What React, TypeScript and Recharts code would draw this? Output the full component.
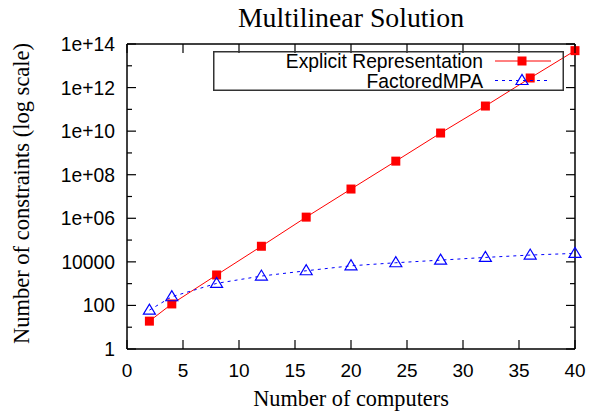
import React from "react";
import { LineChart, Line, XAxis, YAxis, Legend } from "recharts";

// values
const computers = [2, 4, 8, 12, 16, 20, 24, 28, 32, 36, 40];
const explicitRep = [19, 117, 2500, 5.2e4, 1.13e6, 2.2e7, 4.2e8, 8.2e9, 1.42e11, 2.75e12, 4.95e13];
const factoredMPA = [61, 250, 1030, 2230, 3900, 6600, 9100, 12000, 16000, 20500, 24500];

const xTicks = [0, 5, 10, 15, 20, 25, 30, 35, 40];
const yTicks = [1, 10, 100, 1e3, 1e4, 1e5, 1e6, 1e7, 1e8, 1e9, 1e10, 1e11, 1e12, 1e13, 1e14];
const yLabels: Record<number, string> = {
  1: "1",
  100: "100",
  10000: "10000",
  1000000: "1e+06",
  100000000: "1e+08",
  10000000000: "1e+10",
  1000000000000: "1e+12",
  100000000000000: "1e+14",
};

const data = computers.map((c, i) => ({
  computers: c,
  explicit: explicitRep[i],
  factored: factoredMPA[i],
}));

const SANS = "'Liberation Sans', Arial, sans-serif";
const SERIF = "'Liberation Serif', 'Times New Roman', serif";
const RED = "#ff0000";
const BLUE = "#0000ff";

const isMajor = (v: number) => yLabels[v] !== undefined;

const BottomTick = (p: any) => (
  <g>
    <line x1={p.x} y1={p.y} x2={p.x} y2={p.y - 9} stroke="#000" strokeWidth={1.2} />
    <text x={p.x} y={p.y + 28} textAnchor="middle" fontFamily={SANS} fontSize={19} fill="#000">
      {p.payload.value}
    </text>
  </g>
);

const TopTick = (p: any) => (
  <line x1={p.x} y1={p.y} x2={p.x} y2={p.y + 9} stroke="#000" strokeWidth={1.2} />
);

const LeftTick = (p: any) => {
  const v = p.payload.value;
  const len = isMajor(v) ? 9 : 5;
  return (
    <g>
      <line x1={p.x} y1={p.y} x2={p.x + len} y2={p.y} stroke="#000" strokeWidth={1.2} />
      {isMajor(v) && (
        <text x={p.x - 12} y={p.y + 7} textAnchor="end" fontFamily={SANS} fontSize={19.3} fill="#000">
          {yLabels[v]}
        </text>
      )}
    </g>
  );
};

const RightTick = (p: any) => {
  const len = isMajor(p.payload.value) ? 9 : 5;
  return <line x1={p.x} y1={p.y} x2={p.x - len} y2={p.y} stroke="#000" strokeWidth={1.2} />;
};

const SquareDot = (p: any) => {
  if (p.cx == null || p.cy == null) return <g key={p.index} />;
  return <rect key={p.index} x={p.cx - 4.5} y={p.cy - 4.5} width={9} height={9} fill={RED} />;
};

const TriangleDot = (p: any) => {
  if (p.cx == null || p.cy == null) return <g key={p.index} />;
  const { cx, cy } = p;
  return (
    <path
      key={p.index}
      d={`M${cx - 6},${cy + 4} L${cx + 6},${cy + 4} L${cx},${cy - 6} Z`}
      fill="none"
      stroke={BLUE}
      strokeWidth={1.2}
    />
  );
};

const LegendBox = () => (
  <svg width={351} height={40} style={{ display: "block" }}>
    <rect x={0.75} y={0.75} width={349.5} height={38.5} fill="none" stroke="#333" strokeWidth={1.5} />
    <text x={270} y={16.5} textAnchor="end" fontFamily={SANS} fontSize={19.3} fill="#000">
      Explicit Representation
    </text>
    <line x1={282} y1={10} x2={338} y2={10} stroke={RED} strokeWidth={1} />
    <rect x={304.5} y={5.5} width={9} height={9} fill={RED} />
    <text x={270} y={37} textAnchor="end" fontFamily={SANS} fontSize={19.3} fill="#000">
      FactoredMPA
    </text>
    <line x1={282} y1={29.5} x2={338} y2={29.5} stroke={BLUE} strokeWidth={1} strokeDasharray="3 4" />
    <path d="M303,33.5 L315,33.5 L309,23.5 Z" fill="none" stroke={BLUE} strokeWidth={1.2} />
  </svg>
);

export default function App() {
  return (
    <div style={{ position: "absolute", left: 0, top: 0, width: 603, height: 417, background: "#fff" }}>
      <LineChart width={603} height={417} data={data} margin={{ top: 43, right: 27, bottom: 0, left: 0 }}>
        <XAxis
          dataKey="computers"
          type="number"
          domain={[0, 40]}
          ticks={xTicks}
          interval={0}
          height={68}
          tickSize={0}
          tickMargin={0}
          tickLine={false}
          axisLine={{ stroke: "#000", strokeWidth: 1.5 }}
          tick={<BottomTick />}
          label={{
            content: (props: any) => {
              const vb = props.viewBox;
              return (
                <text
                  x={vb.x + vb.width / 2}
                  y={vb.y + 57}
                  textAnchor="middle"
                  fontFamily={SERIF}
                  fontSize={22.3}
                  fill="#000"
                >
                  Number of computers
                </text>
              );
            },
          }}
        />
        <XAxis
          xAxisId="top"
          dataKey="computers"
          orientation="top"
          type="number"
          domain={[0, 40]}
          ticks={xTicks}
          interval={0}
          height={1}
          tickSize={0}
          tickMargin={0}
          tickLine={false}
          axisLine={{ stroke: "#000", strokeWidth: 1.5 }}
          tick={<TopTick />}
          label={{
            content: (props: any) => {
              const vb = props.viewBox;
              return (
                <text
                  x={vb.x + vb.width / 2}
                  y={vb.y + vb.height - 17}
                  textAnchor="middle"
                  fontFamily={SERIF}
                  fontSize={27.8}
                  fill="#000"
                >
                  Multilinear Solution
                </text>
              );
            },
          }}
        />
        <YAxis
          type="number"
          scale="log"
          domain={[1, 1e14]}
          ticks={yTicks}
          interval={0}
          allowDataOverflow
          width={127}
          tickSize={0}
          tickMargin={0}
          tickLine={false}
          axisLine={{ stroke: "#000", strokeWidth: 1.5 }}
          tick={<LeftTick />}
          label={{
            content: (props: any) => {
              const vb = props.viewBox;
              const cy = vb.y + vb.height / 2 - 3;
              return (
                <text
                  x={29}
                  y={cy}
                  transform={`rotate(-90, 29, ${cy})`}
                  textAnchor="middle"
                  fontFamily={SERIF}
                  fontSize={22.5}
                  fill="#000"
                >
                  Number of constraints (log scale)
                </text>
              );
            },
          }}
        />
        <YAxis
          yAxisId="right"
          orientation="right"
          type="number"
          scale="log"
          domain={[1, 1e14]}
          ticks={yTicks}
          interval={0}
          allowDataOverflow
          width={1}
          tickSize={0}
          tickMargin={0}
          tickLine={false}
          axisLine={{ stroke: "#000", strokeWidth: 1.5 }}
          tick={<RightTick />}
        />
        <Legend
          layout="horizontal"
          verticalAlign="middle"
          align="center"
          content={() => <LegendBox />}
          wrapperStyle={{ position: "absolute", left: 213, top: 51, width: 351, height: 40, pointerEvents: "none" }}
        />
        <Line
          dataKey="explicit"
          stroke={RED}
          strokeWidth={1}
          dot={<SquareDot />}
          activeDot={false}
          isAnimationActive={false}
        />
        {/* second series sits on the mirrored top/right axes (same domains) so those get drawn */}
        <Line
          dataKey="factored"
          xAxisId="top"
          yAxisId="right"
          stroke={BLUE}
          strokeWidth={1}
          strokeDasharray="3 4"
          dot={<TriangleDot />}
          activeDot={false}
          isAnimationActive={false}
        />
      </LineChart>
    </div>
  );
}
